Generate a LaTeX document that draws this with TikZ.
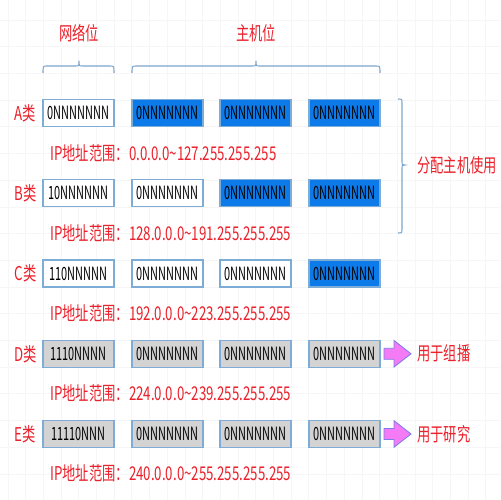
\documentclass[tikz,border=0pt]{standalone}
\usepackage{fontspec}
\usepackage{graphicx}
\setmainfont{Noto Sans CJK SC}
\definecolor{bfill}{RGB}{12,122,232}
\definecolor{bord}{RGB}{125,172,215}
\definecolor{gfill}{RGB}{211,211,211}
\definecolor{redt}{RGB}{235,32,42}
\definecolor{afill}{RGB}{245,122,245}
\definecolor{aline}{RGB}{125,125,230}
\definecolor{bracec}{RGB}{125,165,205}
\newcommand\hsq[1]{\scalebox{0.70}[1]{#1}}
\newcommand\bsq[1]{\scalebox{0.60}[1]{#1}}
\begin{document}
\begin{tikzpicture}[x=0.02cm,y=-0.02cm,
  cell/.style={draw=bord,line width=0.6pt,minimum width=1.42cm,minimum height=0.54cm,inner sep=0pt,font=\fontsize{10.4}{10.4}\selectfont},
  wcell/.style={cell,fill=white},
  bcell/.style={cell,fill=bfill},
  gcell/.style={cell,fill=gfill},
  redlab/.style={text=redt,inner sep=0pt,font=\fontsize{10.8}{11}\selectfont},
  brc/.style={draw=bracec,line width=0.6pt},
  blockarrow/.style={fill=afill,draw=aline,line width=0.5pt}]
\useasboundingbox (0,0) rectangle (500,500);
\fill[white] (0,0) rectangle (500,500);
% faint grid
\foreach \i in {0,...,28} {\draw[black!3.5,line width=0.4pt] (7.9+17.7*\i,0) -- (7.9+17.7*\i,500);}
\foreach \j in {0,...,18} {\draw[black!3.5,line width=0.4pt] (0,20+26.7*\j-26.7) -- (500,20+26.7*\j-26.7);}
% titles
\node[redlab] (tnet) at (79,33) {\hsq{网络位}};
\node[redlab] (thost) at (256,33) {\hsq{主机位}};
% braces
\draw[brc] (43,73) .. controls (43,66) .. (47,66) -- (75,66) .. controls (79,66) .. (79,61) .. controls (79,66) .. (83,66) -- (110,66) .. controls (114,66) .. (114,73);
\draw[brc] (132,73) .. controls (132,66) .. (136,66) -- (252,66) .. controls (256,66) .. (256,61) .. controls (256,66) .. (260,66) -- (376,66) .. controls (380,66) .. (380,73);
\draw[brc] (398,99) .. controls (402,99) .. (402,103) -- (402,161) .. controls (402,165) .. (405,165) .. controls (402,165) .. (402,169) -- (402,229) .. controls (402,233) .. (398,233);
\node[redlab,anchor=west] (alloc) at (417,165) {\hsq{分配主机使用}};
% row A
\node[redlab] (la) at (25.5,113) {\hsq{A类}};
\node[wcell] (a1) at (78.5,113) {\bsq{0NNNNNNN}};
\node[bcell] (a2) at (167.5,113) {\bsq{0NNNNNNN}};
\node[bcell] (a3) at (255.5,113) {\bsq{0NNNNNNN}};
\node[bcell] (a4) at (344.5,113) {\bsq{0NNNNNNN}};
\node[redlab,anchor=west] (ra) at (50,153.5) {\hsq{IP地址范围：0.0.0.0\textasciitilde127.255.255.255}};
% row B
\node[redlab] (lb) at (25.5,193.3) {\hsq{B类}};
\node[wcell] (b1) at (78.5,193.3) {\bsq{10NNNNNN}};
\node[wcell] (b2) at (167.5,193.3) {\bsq{0NNNNNNN}};
\node[bcell] (b3) at (255.5,193.3) {\bsq{0NNNNNNN}};
\node[bcell] (b4) at (344.5,193.3) {\bsq{0NNNNNNN}};
\node[redlab,anchor=west] (rb) at (50,233.5) {\hsq{IP地址范围：128.0.0.0\textasciitilde191.255.255.255}};
% row C
\node[redlab] (lc) at (25.5,273.5) {\hsq{C类}};
\node[wcell] (c1) at (78.5,273.5) {\bsq{110NNNNN}};
\node[wcell] (c2) at (167.5,273.5) {\bsq{0NNNNNNN}};
\node[wcell] (c3) at (255.5,273.5) {\bsq{0NNNNNNN}};
\node[bcell] (c4) at (344.5,273.5) {\bsq{0NNNNNNN}};
\node[redlab,anchor=west] (rc) at (50,313.5) {\hsq{IP地址范围：192.0.0.0\textasciitilde223.255.255.255}};
% row D
\node[redlab] (ld) at (25.5,353.8) {\hsq{D类}};
\node[gcell] (d1) at (78.5,353.8) {\bsq{1110NNNN}};
\node[gcell] (d2) at (167.5,353.8) {\bsq{0NNNNNNN}};
\node[gcell] (d3) at (255.5,353.8) {\bsq{0NNNNNNN}};
\node[gcell] (d4) at (344.5,353.8) {\bsq{0NNNNNNN}};
\draw[blockarrow] (384,348.3) -- (394,348.3) -- (394,340.5) -- (411,353.8) -- (394,367) -- (394,359.3) -- (384,359.3) -- cycle;
\node[redlab,anchor=west] (ud) at (417,353.8) {\hsq{用于组播}};
\node[redlab,anchor=west] (rd) at (50,393.5) {\hsq{IP地址范围：224.0.0.0\textasciitilde239.255.255.255}};
% row E
\node[redlab] (le) at (25.5,434) {\hsq{E类}};
\node[gcell] (e1) at (78.5,434) {\bsq{11110NNN}};
\node[gcell] (e2) at (167.5,434) {\bsq{0NNNNNNN}};
\node[gcell] (e3) at (255.5,434) {\bsq{0NNNNNNN}};
\node[gcell] (e4) at (344.5,434) {\bsq{0NNNNNNN}};
\draw[blockarrow] (384,428.5) -- (394,428.5) -- (394,420.7) -- (411,434) -- (394,447.2) -- (394,439.5) -- (384,439.5) -- cycle;
\node[redlab,anchor=west] (ue) at (417,434) {\hsq{用于研究}};
\node[redlab,anchor=west] (re) at (50,473.5) {\hsq{IP地址范围：240.0.0.0\textasciitilde255.255.255.255}};
\end{tikzpicture}
\end{document}
